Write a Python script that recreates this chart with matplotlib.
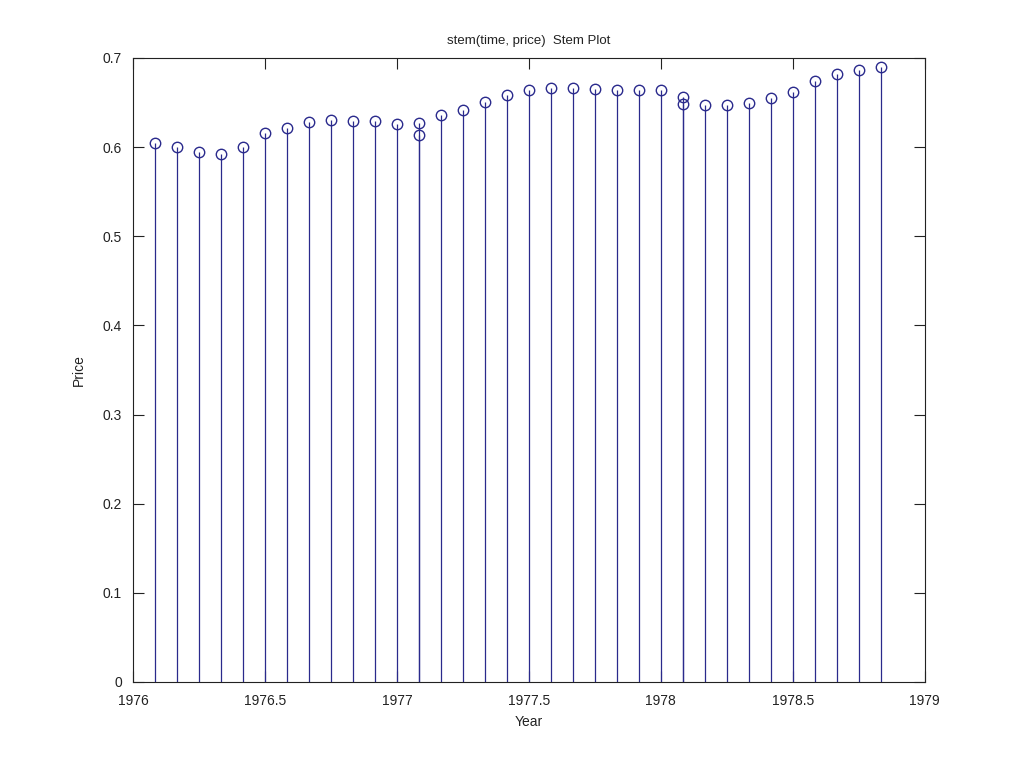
import numpy as np
import matplotlib
matplotlib.use('Agg')
import matplotlib.pyplot as plt

plt.rcParams['font.family'] = ['Liberation Sans', 'DejaVu Sans']

# data (monthly, two overlapping points in Jan 1977 / Jan 1978)
time = [1976.083, 1976.167, 1976.250, 1976.333, 1976.417, 1976.500, 1976.583,
        1976.667, 1976.750, 1976.833, 1976.917, 1977.000, 1977.083, 1977.083,
        1977.167, 1977.250, 1977.333, 1977.417, 1977.500, 1977.583, 1977.667,
        1977.750, 1977.833, 1977.917, 1978.000, 1978.083, 1978.083, 1978.167,
        1978.250, 1978.333, 1978.417, 1978.500, 1978.583, 1978.667, 1978.750,
        1978.833]
price = [0.605, 0.600, 0.594, 0.592, 0.600, 0.616, 0.622,
         0.628, 0.630, 0.629, 0.629, 0.626, 0.627, 0.614,
         0.636, 0.642, 0.651, 0.659, 0.664, 0.666, 0.666,
         0.665, 0.664, 0.664, 0.664, 0.656, 0.648, 0.647,
         0.647, 0.649, 0.655, 0.662, 0.674, 0.682, 0.687,
         0.690]
xticks = [1976, 1976.5, 1977, 1977.5, 1978, 1978.5, 1979]
yticks = [0, 0.1, 0.2, 0.3, 0.4, 0.5, 0.6, 0.7]

col = '#2a2a8c'
txt = '#222222'

fig = plt.figure(figsize=(10.24, 7.68), dpi=100)
ax = fig.add_axes([0.130, 0.112, 0.773, 0.8125])

ml, sl, bl = ax.stem(time, price, basefmt=' ')
plt.setp(sl, color=col, linewidth=0.9)
plt.setp(ml, color=col, marker='o', markersize=7.5, markerfacecolor='none',
         markeredgewidth=1.0)

ax.set_xlim(1976, 1979)
ax.set_ylim(0, 0.7)
ax.set_xticks(xticks)
ax.set_xticklabels(['1976', '1976.5', '1977', '1977.5', '1978', '1978.5', '1979'])
ax.set_yticks(yticks)
ax.set_yticklabels(['0', '0.1', '0.2', '0.3', '0.4', '0.5', '0.6', '0.7'])
ax.tick_params(direction='in', length=8, width=0.8, top=True, right=True,
               labelsize=10, colors=txt)
ax.tick_params(axis='x', pad=8.5)
ax.tick_params(axis='y', pad=8)
for s in ax.spines.values():
    s.set_linewidth(0.8)
    s.set_color(txt)

ax.set_xlabel('Year', fontsize=10, color=txt, labelpad=5)
ax.set_ylabel('Price', fontsize=10, color=txt, labelpad=12)
ax.set_title('stem(time, price)  Stem Plot', fontsize=9.5, color=txt, pad=10)

fig.savefig('out.png', dpi=100)
